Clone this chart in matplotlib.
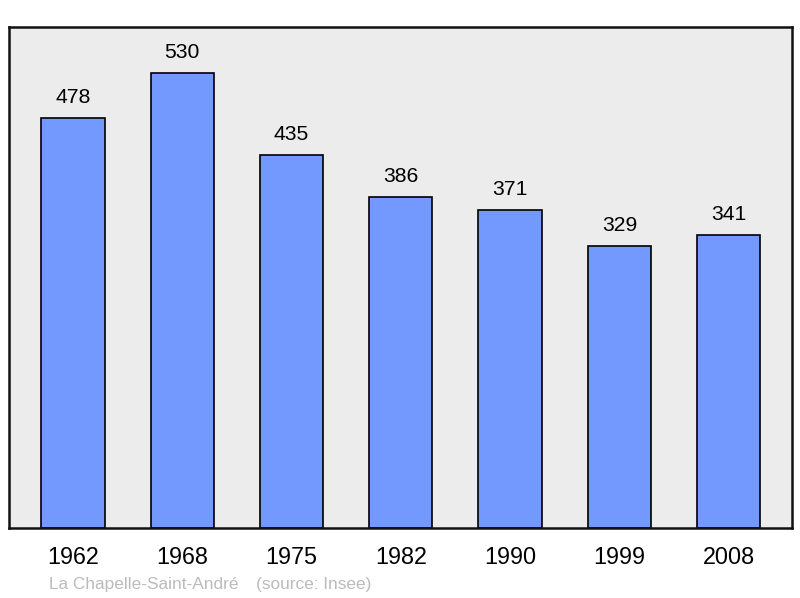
import matplotlib.pyplot as plt

years = ["1962", "1968", "1975", "1982", "1990", "1999", "2008"]
population = [478, 530, 435, 386, 371, 329, 341]

plt.rcParams['font.family'] = ['Liberation Sans', 'DejaVu Sans']

fig = plt.figure(figsize=(8, 5.98), dpi=100)
ax = fig.add_axes([9 / 800, 70 / 598, 783 / 800, 501 / 598])
ax.set_facecolor('#ececec')

x = range(len(years))
ax.bar(x, population, width=0.58, color='#7399ff', edgecolor='black',
       linewidth=1.2, zorder=2)
for i, v in zip(x, population):
    ax.annotate(str(v), (i, v), xytext=(0, 8), textcoords='offset points',
                ha='center', va='bottom', fontsize=15.2)

ax.set_xlim(-0.585, 6.58)
ax.set_ylim(0, 584)
ax.set_xticks(list(x))
ax.set_xticklabels(years, fontsize=16.8)
ax.tick_params(axis='x', length=0, pad=13)
ax.set_yticks([])
for s in ax.spines.values():
    s.set_linewidth(1.8)
    s.set_color('#111111')

fig.text(49 / 800, 1 - 584 / 598, "La Chapelle-Saint-André", color='#bbbbbb',
         fontsize=12.4, va='center')
fig.text(256 / 800, 1 - 584 / 598, "(source: Insee)", color='#bbbbbb',
         fontsize=12.4, va='center')

fig.savefig('out.png', dpi=100)
